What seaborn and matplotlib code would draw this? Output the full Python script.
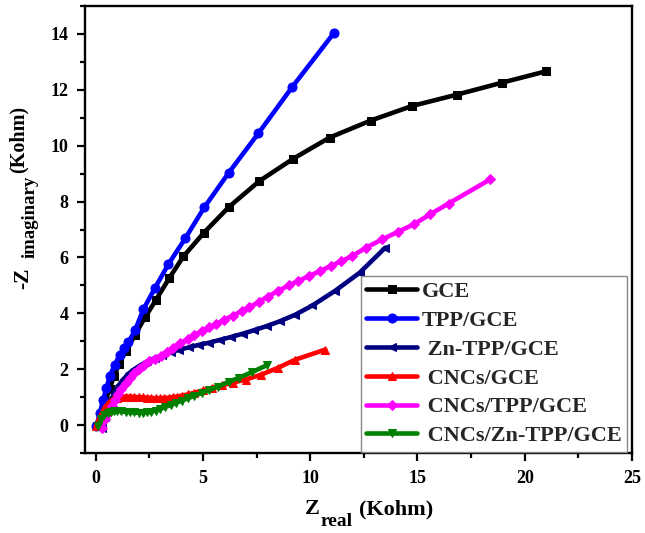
import numpy as np
import pandas as pd
import matplotlib
matplotlib.use("Agg")
import matplotlib.pyplot as plt
import seaborn as sns
from matplotlib.ticker import MultipleLocator

# ---- data (Kohm) ----
gce_x = [0.05, 0.25, 0.45, 0.65, 0.85, 1.1, 1.4, 1.84, 2.3, 2.8, 3.42, 4.09, 5.05, 6.2, 7.62, 9.2, 10.9, 12.82, 14.74, 16.85, 18.96, 20.98]
gce_y = [-0.05, 0.4, 0.85, 1.3, 1.75, 2.2, 2.65, 3.24, 3.86, 4.47, 5.25, 6.04, 6.89, 7.8, 8.73, 9.53, 10.29, 10.9, 11.42, 11.83, 12.26, 12.66]

tpp_x = [0.03, 0.19, 0.34, 0.5, 0.65, 0.89, 1.12, 1.3, 1.52, 1.84, 2.22, 2.77, 3.39, 4.17, 5.06, 6.2, 7.58, 9.17, 11.09]
tpp_y = [-0.05, 0.42, 0.9, 1.32, 1.74, 2.16, 2.52, 2.75, 2.96, 3.4, 4.14, 4.92, 5.76, 6.68, 7.79, 9.03, 10.44, 12.11, 14.02]

zn_x = [0.3, 0.45, 0.6, 0.75, 0.9, 1.1, 1.3, 1.55, 1.8, 2.1, 2.4, 2.75, 3.1, 3.5, 3.9, 4.35, 4.8, 5.3, 5.8, 6.3, 6.85, 7.4, 8.0, 8.6, 9.3, 10.1, 11.15, 12.3, 13.5]
zn_y = [-0.1, 0.3, 0.65, 0.95, 1.2, 1.45, 1.65, 1.85, 2.0, 2.15, 2.28, 2.4, 2.5, 2.6, 2.7, 2.78, 2.87, 2.95, 3.05, 3.15, 3.27, 3.4, 3.55, 3.72, 3.95, 4.28, 4.8, 5.45, 6.35]

cnc_x = [0.0, 0.2, 0.4, 0.6, 0.8, 1.0, 1.2, 1.4, 1.6, 1.8, 2.0, 2.2, 2.4, 2.6, 2.8, 3.0, 3.2, 3.4, 3.6, 3.8, 4.0, 4.3, 4.6, 5.0, 5.4, 5.9, 6.4, 7.0, 7.7, 8.5, 9.3, 10.7]
cnc_y = [-0.05, 0.3, 0.6, 0.8, 0.92, 0.98, 1.0, 1.02, 1.02, 1.0, 1.0, 0.99, 0.98, 0.97, 0.96, 0.96, 0.97, 0.98, 1.0, 1.02, 1.05, 1.1, 1.16, 1.24, 1.32, 1.42, 1.52, 1.63, 1.8, 2.05, 2.34, 2.7]

cnctpp_x = [0.3, 0.45, 0.6, 0.75, 0.9, 1.05, 1.2, 1.4, 1.6, 1.8, 2.0, 2.25, 2.5, 2.75, 3.03, 3.3, 3.61, 3.95, 4.28, 4.6, 4.95, 5.3, 5.62, 6.0, 6.39, 6.8, 7.16, 7.6, 8.02, 8.5, 9.0, 9.45, 9.93, 10.45, 10.95, 11.45, 11.96, 12.6, 13.36, 14.1, 14.84, 15.6, 16.45, 18.4]
cnctpp_y = [-0.1, 0.2, 0.45, 0.7, 0.9, 1.1, 1.3, 1.5, 1.7, 1.85, 2.0, 2.15, 2.28, 2.38, 2.46, 2.62, 2.77, 2.93, 3.07, 3.22, 3.37, 3.5, 3.62, 3.77, 3.92, 4.07, 4.22, 4.4, 4.6, 4.8, 5.0, 5.16, 5.33, 5.51, 5.69, 5.87, 6.05, 6.35, 6.65, 6.92, 7.19, 7.55, 7.93, 8.8]

cnczn_x = [0.1, 0.25, 0.4, 0.55, 0.7, 0.85, 1.0, 1.2, 1.4, 1.6, 1.8, 2.0, 2.2, 2.4, 2.6, 2.8, 3.0, 3.25, 3.5, 3.75, 4.0, 4.3, 4.6, 4.95, 5.3, 5.7, 6.2, 6.7, 7.3, 8.0]
cnczn_y = [-0.05, 0.2, 0.35, 0.44, 0.48, 0.5, 0.5, 0.49, 0.47, 0.46, 0.45, 0.44, 0.44, 0.45, 0.48, 0.52, 0.58, 0.65, 0.72, 0.8, 0.87, 0.96, 1.05, 1.15, 1.25, 1.38, 1.55, 1.7, 1.9, 2.15]

labels = ["GCE", "TPP/GCE", " Zn-TPP/GCE", " CNCs/GCE", " CNCs/TPP/GCE", " CNCs/Zn-TPP/GCE"]
colors = ["#000000", "#0000FF", "#000080", "#FF0000", "#FF00FF", "#008000"]
markers = ["s", "o", "<", "^", "D", "v"]
msizes = [6, 6.5, 6, 6, 5, 6]

xs = [gce_x, tpp_x, zn_x, cnc_x, cnctpp_x, cnczn_x]
ys = [gce_y, tpp_y, zn_y, cnc_y, cnctpp_y, cnczn_y]

sns.set_theme(style="ticks")
plt.rcParams["font.family"] = ["Liberation Serif", "DejaVu Serif"]
plt.rcParams["font.weight"] = "bold"

W, H = 645, 533
fig = plt.figure(figsize=(W / 100, H / 100), dpi=100)
ax = fig.add_axes([85 / W, (H - 453) / H, 547 / W, 447 / H])

for x, y, lab, c, m, ms in zip(xs, ys, labels, colors, markers, msizes):
    df = pd.DataFrame({"x": x, "y": y})
    sns.lineplot(data=df, x="x", y="y", ax=ax, color=c, marker=m, markersize=ms,
                 markeredgecolor=c, markerfacecolor=c, linewidth=3.3, sort=False,
                 label=lab, estimator=None)

ax.set_xlim(-0.5, 25)
ax.set_ylim(-1, 15)
ax.xaxis.set_major_locator(MultipleLocator(5))
ax.xaxis.set_minor_locator(MultipleLocator(2.5))
ax.yaxis.set_major_locator(MultipleLocator(2))
ax.yaxis.set_minor_locator(MultipleLocator(1))
ax.tick_params(which="both", direction="out", top=False, right=False, width=1.6, colors="black")
ax.tick_params(which="major", length=6, labelsize=13, pad=6)
ax.tick_params(which="minor", length=3.5)
for lbl in ax.get_xticklabels() + ax.get_yticklabels():
    lbl.set_fontweight("bold")
for s in ax.spines.values():
    s.set_linewidth(1.7)
    s.set_color("black")
ax.set_xlabel("")
ax.set_ylabel("")

# ---- axis titles built from text runs (subscripts nearly full size, as in reference) ----
def ftxt(xp, yp_top, s, size, rot=0):
    return fig.text(xp / W, (H - yp_top) / H, s, fontsize=size, fontweight="bold",
                    ha="left", va="baseline", rotation=rot, rotation_mode="anchor",
                    color="black")

# x title: Z_real (Kohm)
ftxt(305, 514, "Z", 16)
ftxt(321, 526, "real", 14)
ftxt(359, 514, "(Kohm)", 16)

# y title: -Z_imaginary (Kohm)  (rotated, reading bottom -> top)
ftxt(28, 289, "-Z", 15.5, rot=90)
ftxt(35, 258, "imaginary", 13.5, rot=90)
ftxt(24, 173, "(Kohm)", 14.5, rot=90)

leg = ax.legend(loc="lower right", bbox_to_anchor=(0.991, 0.003), borderaxespad=0,
                frameon=True, fancybox=False, edgecolor="#888888", framealpha=1,
                prop={"family": "Liberation Serif", "weight": "bold", "size": 16},
                handlelength=2.3, handletextpad=0.2, labelspacing=0.37, numpoints=1,
                borderpad=0.25)
leg.get_frame().set_linewidth(1.0)

fig.savefig("out.png", dpi=100)
